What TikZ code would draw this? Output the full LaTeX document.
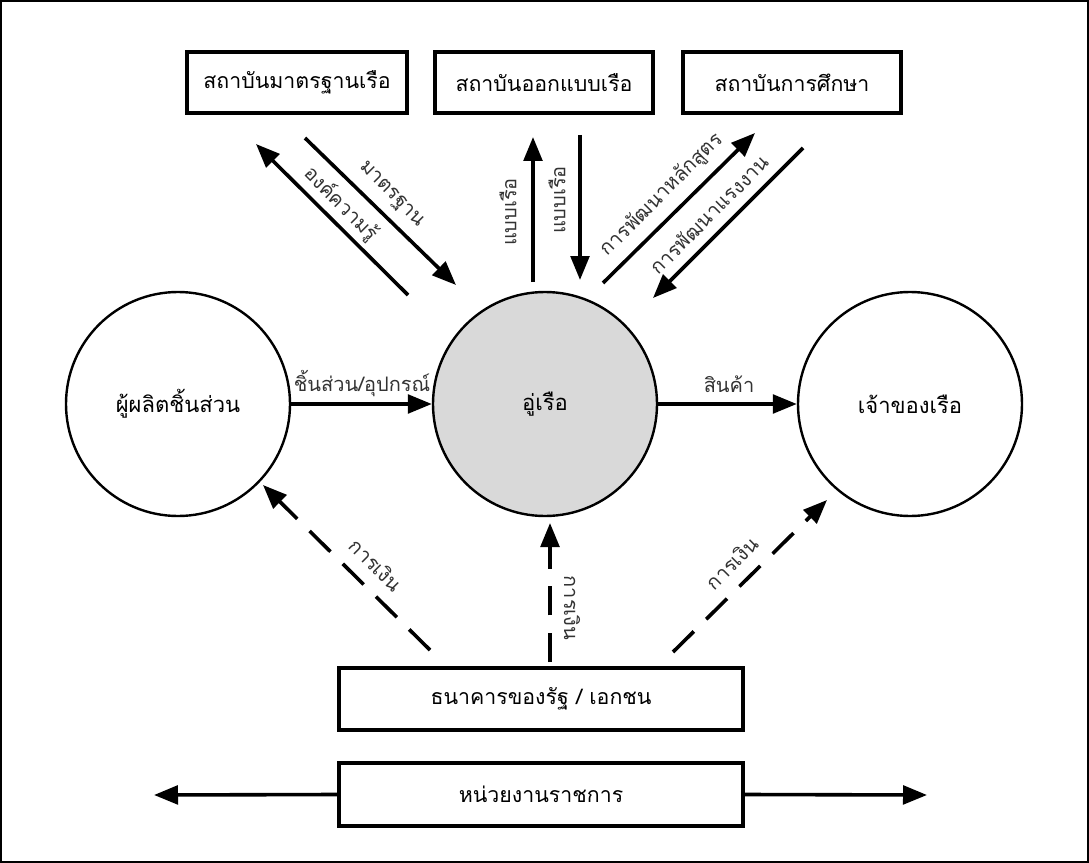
\documentclass[tikz,border=0pt]{standalone}
\usepackage{fontspec}
\setmainfont[Script=Thai]{Loma}
\usetikzlibrary{arrows.meta}
\begin{document}
\begin{tikzpicture}[x=0.75pt,y=-0.75pt,
  box/.style={draw, line width=2.7pt, minimum height=46pt, inner sep=0pt,
    font=\fontsize{16}{19}\selectfont},
  party/.style={draw, circle, line width=1.8pt, minimum size=168pt, inner sep=0pt,
    font=\fontsize{16.5}{19}\selectfont},
  flow/.style={line width=2.7pt, -{Triangle[length=18pt,width=14pt]}},
  fund/.style={flow, dash pattern=on 22pt off 13pt},
  lbl/.style={font=\fontsize{15}{18}\selectfont, text=black!80, inner sep=0pt}
]
\useasboundingbox (0,0) rectangle (1089,863);
\draw[line width=1.5pt] (1,1) rectangle (1088,862);

% institutions along the top
\node[box, minimum width=165pt]   (std) at (297,82.5) {สถาบันมาตรฐานเรือ};
\node[box, minimum width=163.5pt] (des) at (544,82.5) {สถาบันออกแบบเรือ};
\node[box, minimum width=163.5pt] (edu) at (792,82.5) {สถาบันการศึกษา};

% the three parties
\node[party]                 (sup)  at (178,404) {ผู้ผลิตชิ้นส่วน};
\node[party, fill=black!15]  (yard) at (545,404) {อู่เรือ};
\node[party]                 (own)  at (910,404) {เจ้าของเรือ};

% finance and government
\node[box, minimum width=303pt, minimum height=46.5pt]  (bank) at (541,699)   {ธนาคารของรัฐ / เอกชน};
\node[box, minimum width=303pt, minimum height=47.25pt] (gov)  at (541,794.5) {หน่วยงานราชการ};

% free ends of the flows
\coordinate (a0) at (408,295); \coordinate (a1) at (256,144);
\coordinate (b0) at (305,138); \coordinate (b1) at (456,285);
\coordinate (u0) at (533,282); \coordinate (u1) at (533,137);
\coordinate (d0) at (580,135); \coordinate (d1) at (580,280);
\coordinate (c0) at (603,283); \coordinate (c1) at (755,133);
\coordinate (e0) at (803,148); \coordinate (e1) at (653,298);
\coordinate (f0) at (430,650); \coordinate (f1) at (263,485);
\coordinate (g0) at (550,662); \coordinate (g1) at (550,523);
\coordinate (h0) at (673,652); \coordinate (h1) at (827,500);
\coordinate (gl) at (154,795); \coordinate (gr) at (927,795);

% flows around the shipyard
\draw[flow] (a0) -- (a1);
\draw[flow] (b0) -- (b1);
\draw[flow] (u0) -- (u1);
\draw[flow] (d0) -- (d1);
\draw[flow] (c0) -- (c1);
\draw[flow] (e0) -- (e1);
\draw[flow] (sup.east) -- (yard.west);
\draw[flow] (yard.east) -- (own.west);
\draw[fund] (f0) -- (f1);
\draw[fund] (g0) -- (g1);
\draw[fund] (h0) -- (h1);
\draw[flow] (gov.west) -- (gl);
\draw[flow] (gov.east) -- (gr);

% flow labels
\node[lbl, rotate=-45] (lk)  at (341,204) {องค์ความรู้};
\node[lbl, rotate=-45] (ls)  at (391,195) {มาตรฐาน};
\node[lbl, rotate=90]  (ld1) at (508,212) {แบบเรือ};
\node[lbl, rotate=90]  (ld2) at (557,200) {แบบเรือ};
\node[lbl, rotate=45]  (lc)  at (662,195) {การพัฒนาหลักสูตร};
\node[lbl, rotate=45]  (lw)  at (709,214) {การพัฒนาแรงงาน};
\node[lbl] (lp) at (362,384) {ชิ้นส่วน/อุปกรณ์};
\node[lbl] (lg) at (729,384) {สินค้า};
\node[lbl, rotate=-45] (lf1) at (376,565) {การเงิน};
\node[lbl, rotate=-90] (lf2) at (572,608) {การเงิน};
\node[lbl, rotate=45]  (lf3) at (732,563) {การเงิน};
\end{tikzpicture}
\end{document}
